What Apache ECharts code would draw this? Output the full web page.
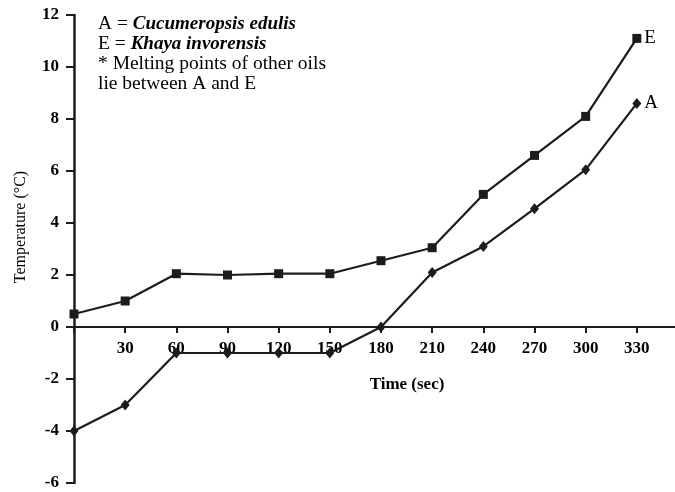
<!DOCTYPE html>
<html>
<head>
<meta charset="utf-8">
<script src="https://cdn.jsdelivr.net/npm/echarts@6/dist/echarts.min.js"></script>
<style>html,body{margin:0;padding:0;background:#fff;}#c{width:675px;height:492px;}</style>
</head>
<body>
<div id="c"></div>
<script>
var times = [0, 30, 60, 90, 120, 150, 180, 210, 240, 270, 300, 330];
var seriesE = [0.5, 1.0, 2.05, 2.0, 2.05, 2.05, 2.55, 3.05, 5.1, 6.6, 8.1, 11.1];
var seriesA = [-4, -3, -1, -1, -1, -1, 0, 2.1, 3.1, 4.55, 6.05, 8.6];
var xTickLabels = [30, 60, 90, 120, 150, 180, 210, 240, 270, 300, 330];
var noteLines = [
  ['A = ', 'Cucumeropsis edulis'],
  ['E = ', 'Khaya invorensis'],
  ['* Melting points of other oils', ''],
  ['lie between A and E', '']
];

var FONT = '"Liberation Serif", "DejaVu Serif", serif';
var INK = '#1c1c1c';

function build(vals, name) {
  return times.map(function (t, i) {
    var item = { value: [t, vals[i]] };
    if (i === times.length - 1) {
      item.label = {
        show: true, position: 'right', distance: 3, formatter: name,
        fontFamily: FONT, fontSize: 19, color: '#000'
      };
    }
    return item;
  });
}

var chart = echarts.init(document.getElementById('c'));
var richText = noteLines.map(function (l) {
  return '{n|' + l[0] + '}' + (l[1] ? '{i|' + l[1] + '}' : '');
}).join('\n');

chart.setOption({
  backgroundColor: '#fff',
  animation: false,
  grid: { left: 74, width: 614, top: 15, height: 468, containLabel: false, outerBoundsMode: 'none' },
  xAxis: {
    type: 'value', min: 0, max: 360, interval: 30,
    offset: -156,
    axisLine: { show: true, onZero: false, lineStyle: { color: INK, width: 2.2 } },
    axisTick: { show: true, length: 6, lineStyle: { color: INK, width: 2 } },
    splitLine: { show: false },
    axisLabel: {
      margin: 13, fontFamily: FONT, fontSize: 17, fontWeight: 'bold', color: '#000',
      formatter: function (v) { return xTickLabels.indexOf(v) >= 0 ? String(v) : ''; }
    }
  },
  yAxis: {
    type: 'value', min: -6, max: 12, interval: 2,
    axisLine: { show: true, onZero: false, lineStyle: { color: INK, width: 2.5 } },
    axisTick: { show: true, length: 8, lineStyle: { color: INK, width: 2 } },
    splitLine: { show: false },
    axisLabel: { margin: 15, fontFamily: FONT, fontSize: 17, fontWeight: 'bold', color: '#000' }
  },
  graphic: [
    {
      type: 'text', left: 98, top: 14,
      style: {
        text: richText,
        fontFamily: FONT, fontSize: 19, lineHeight: 20, fill: '#000',
        rich: {
          n: { fontFamily: FONT, fontSize: 19.5, lineHeight: 20, fill: '#000' },
          i: { fontFamily: FONT, fontSize: 19, lineHeight: 20, fontStyle: 'italic', fontWeight: 'bold', fill: '#000' }
        }
      }
    },
    {
      type: 'text', x: 407, y: 385,
      style: { text: 'Time (sec)', fontFamily: FONT, fontSize: 17, fontWeight: 'bold', fill: '#000', align: 'center', verticalAlign: 'middle' }
    },
    {
      type: 'text', x: 21, y: 227, rotation: Math.PI / 2,
      style: { text: 'Temperature (°C)', fontFamily: FONT, fontSize: 16, fill: '#000', align: 'center', verticalAlign: 'middle' }
    }
  ],
  series: [
    {
      name: 'E', type: 'line', data: build(seriesE, 'E'),
      symbol: 'rect', symbolSize: 9,
      lineStyle: { color: INK, width: 2.2 }, itemStyle: { color: INK }
    },
    {
      name: 'A', type: 'line', data: build(seriesA, 'A'),
      symbol: 'diamond', symbolSize: [9, 11],
      lineStyle: { color: INK, width: 2.2 }, itemStyle: { color: INK }
    }
  ]
});
</script>
</body>
</html>
